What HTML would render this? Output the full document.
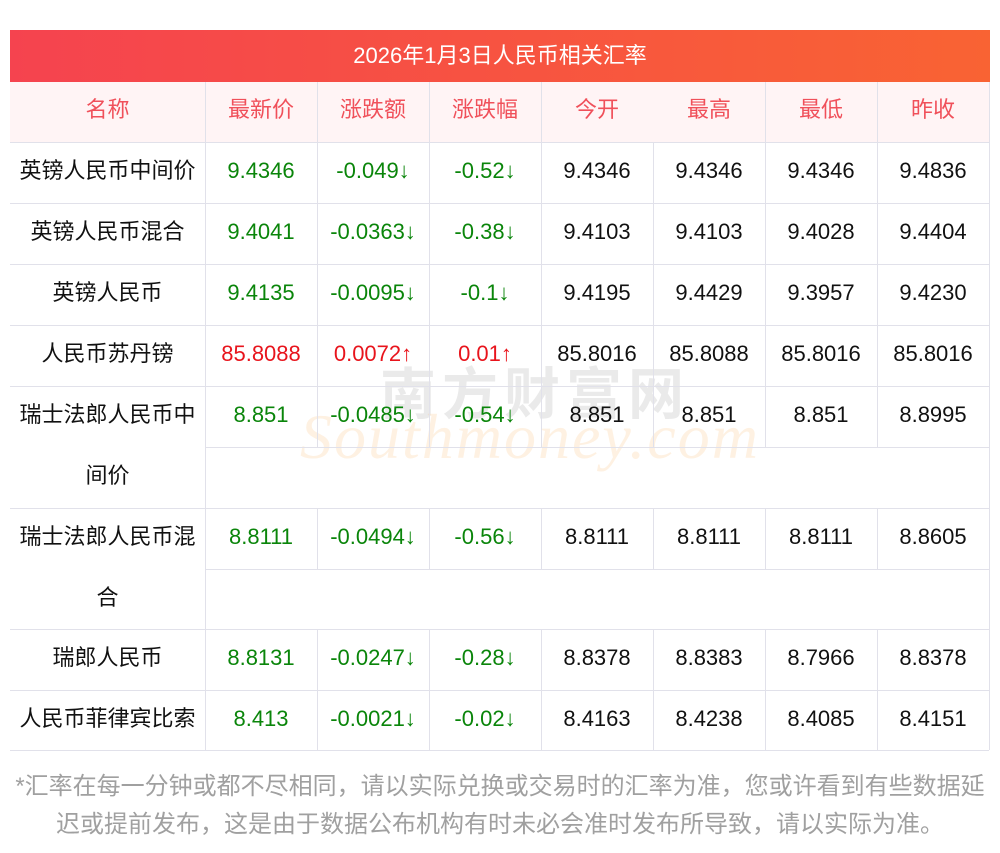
<!DOCTYPE html>
<html><head><meta charset="utf-8"><style>
body{margin:0;width:1000px;height:853px;background:#fff;position:relative;overflow:hidden;font-family:"Liberation Sans","Noto Sans CJK SC",sans-serif;}
.t{position:absolute;left:10px;top:30px;width:980px;height:52px;background:linear-gradient(90deg,#f5434f,#f96333);color:#fff;font-size:22px;line-height:52px;text-align:center}
.hb{position:absolute;left:10px;top:82px;width:979px;height:60px;background:#fff4f5}
.c{position:absolute;height:61px;line-height:57px;text-align:center;font-size:22px;color:#111;white-space:nowrap}
.h{color:#f0505a;height:60px;line-height:56px}
.g{color:#0a850a}.r{color:#e8141c}
.c1{left:10px;width:195px}.c2{left:205px;width:112px}.c3{left:317px;width:112px}.c4{left:429px;width:112px}
.c5{left:541px;width:112px}.c6{left:653px;width:112px}.c7{left:765px;width:112px}.c8{left:877px;width:112px}
.hl{position:absolute;height:1px;background:#e1e1ea}
.vl{position:absolute;width:1px;background:#e1e1ea}
.f{position:absolute;left:0;width:1000px;text-align:center;font-size:24px;color:#a0a0a0;line-height:38px;white-space:nowrap}
.wm{position:absolute;font-family:"Liberation Serif",serif;font-style:italic;font-size:64px;color:rgba(250,200,140,0.25);left:300px;top:400px;letter-spacing:2px}
.wm2{position:absolute;font-size:56px;color:rgba(150,150,150,0.2);left:380px;top:350px;letter-spacing:6px;font-weight:bold}
</style></head><body>
<div class="t">2026年1月3日人民币相关汇率</div>
<div class="hb"></div>
<div class="wm2">南方财富网</div>
<div class="wm">Southmoney.com</div>
<div class="hl" style="left:10px;width:979px;top:142px"></div>
<div class="hl" style="left:10px;width:979px;top:203px"></div>
<div class="hl" style="left:10px;width:979px;top:264px"></div>
<div class="hl" style="left:10px;width:979px;top:325px"></div>
<div class="hl" style="left:10px;width:979px;top:386px"></div>
<div class="hl" style="left:205px;width:784px;top:447px"></div>
<div class="hl" style="left:10px;width:979px;top:508px"></div>
<div class="hl" style="left:205px;width:784px;top:569px"></div>
<div class="hl" style="left:10px;width:979px;top:629px"></div>
<div class="hl" style="left:10px;width:979px;top:690px"></div>
<div class="hl" style="left:10px;width:979px;top:750px"></div>
<div class="vl" style="left:205px;top:82px;height:668px"></div>
<div class="vl" style="left:989px;top:82px;height:668px"></div>
<div class="vl" style="left:317px;top:82px;height:365px"></div><div class="vl" style="left:317px;top:508px;height:61px"></div><div class="vl" style="left:317px;top:629px;height:121px"></div>
<div class="vl" style="left:429px;top:82px;height:365px"></div><div class="vl" style="left:429px;top:508px;height:61px"></div><div class="vl" style="left:429px;top:629px;height:121px"></div>
<div class="vl" style="left:541px;top:82px;height:365px"></div><div class="vl" style="left:541px;top:508px;height:61px"></div><div class="vl" style="left:541px;top:629px;height:121px"></div>
<div class="vl" style="left:653px;top:142px;height:305px"></div><div class="vl" style="left:653px;top:508px;height:61px"></div><div class="vl" style="left:653px;top:629px;height:121px"></div>
<div class="vl" style="left:765px;top:82px;height:365px"></div><div class="vl" style="left:765px;top:508px;height:61px"></div><div class="vl" style="left:765px;top:629px;height:121px"></div>
<div class="vl" style="left:877px;top:82px;height:365px"></div><div class="vl" style="left:877px;top:508px;height:61px"></div><div class="vl" style="left:877px;top:629px;height:121px"></div>
<div class="c h c1" style="top:82px">名称</div><div class="c h c2" style="top:82px">最新价</div><div class="c h c3" style="top:82px">涨跌额</div><div class="c h c4" style="top:82px">涨跌幅</div><div class="c h c5" style="top:82px">今开</div><div class="c h c6" style="top:82px">最高</div><div class="c h c7" style="top:82px">最低</div><div class="c h c8" style="top:82px">昨收</div>
<div class="c c1" style="top:142px">英镑人民币中间价</div><div class="c g c2" style="top:142px">9.4346</div><div class="c g c3" style="top:142px">-0.049↓</div><div class="c g c4" style="top:142px">-0.52↓</div><div class="c c5" style="top:142px">9.4346</div><div class="c c6" style="top:142px">9.4346</div><div class="c c7" style="top:142px">9.4346</div><div class="c c8" style="top:142px">9.4836</div>
<div class="c c1" style="top:203px">英镑人民币混合</div><div class="c g c2" style="top:203px">9.4041</div><div class="c g c3" style="top:203px">-0.0363↓</div><div class="c g c4" style="top:203px">-0.38↓</div><div class="c c5" style="top:203px">9.4103</div><div class="c c6" style="top:203px">9.4103</div><div class="c c7" style="top:203px">9.4028</div><div class="c c8" style="top:203px">9.4404</div>
<div class="c c1" style="top:264px">英镑人民币</div><div class="c g c2" style="top:264px">9.4135</div><div class="c g c3" style="top:264px">-0.0095↓</div><div class="c g c4" style="top:264px">-0.1↓</div><div class="c c5" style="top:264px">9.4195</div><div class="c c6" style="top:264px">9.4429</div><div class="c c7" style="top:264px">9.3957</div><div class="c c8" style="top:264px">9.4230</div>
<div class="c c1" style="top:325px">人民币苏丹镑</div><div class="c r c2" style="top:325px">85.8088</div><div class="c r c3" style="top:325px">0.0072↑</div><div class="c r c4" style="top:325px">0.01↑</div><div class="c c5" style="top:325px">85.8016</div><div class="c c6" style="top:325px">85.8088</div><div class="c c7" style="top:325px">85.8016</div><div class="c c8" style="top:325px">85.8016</div>
<div class="c c1" style="top:386px">瑞士法郎人民币中</div><div class="c c1" style="top:447px">间价</div><div class="c g c2" style="top:386px">8.851</div><div class="c g c3" style="top:386px">-0.0485↓</div><div class="c g c4" style="top:386px">-0.54↓</div><div class="c c5" style="top:386px">8.851</div><div class="c c6" style="top:386px">8.851</div><div class="c c7" style="top:386px">8.851</div><div class="c c8" style="top:386px">8.8995</div>
<div class="c c1" style="top:508px">瑞士法郎人民币混</div><div class="c c1" style="top:569px">合</div><div class="c g c2" style="top:508px">8.8111</div><div class="c g c3" style="top:508px">-0.0494↓</div><div class="c g c4" style="top:508px">-0.56↓</div><div class="c c5" style="top:508px">8.8111</div><div class="c c6" style="top:508px">8.8111</div><div class="c c7" style="top:508px">8.8111</div><div class="c c8" style="top:508px">8.8605</div>
<div class="c c1" style="top:629px">瑞郎人民币</div><div class="c g c2" style="top:629px">8.8131</div><div class="c g c3" style="top:629px">-0.0247↓</div><div class="c g c4" style="top:629px">-0.28↓</div><div class="c c5" style="top:629px">8.8378</div><div class="c c6" style="top:629px">8.8383</div><div class="c c7" style="top:629px">8.7966</div><div class="c c8" style="top:629px">8.8378</div>
<div class="c c1" style="top:690px">人民币菲律宾比索</div><div class="c g c2" style="top:690px">8.413</div><div class="c g c3" style="top:690px">-0.0021↓</div><div class="c g c4" style="top:690px">-0.02↓</div><div class="c c5" style="top:690px">8.4163</div><div class="c c6" style="top:690px">8.4238</div><div class="c c7" style="top:690px">8.4085</div><div class="c c8" style="top:690px">8.4151</div>
<div class="f" style="top:768px">*汇率在每一分钟或都不尽相同，请以实际兑换或交易时的汇率为准，您或许看到有些数据延</div>
<div class="f" style="top:806px">迟或提前发布，这是由于数据公布机构有时未必会准时发布所导致，请以实际为准。</div>
</body></html>
